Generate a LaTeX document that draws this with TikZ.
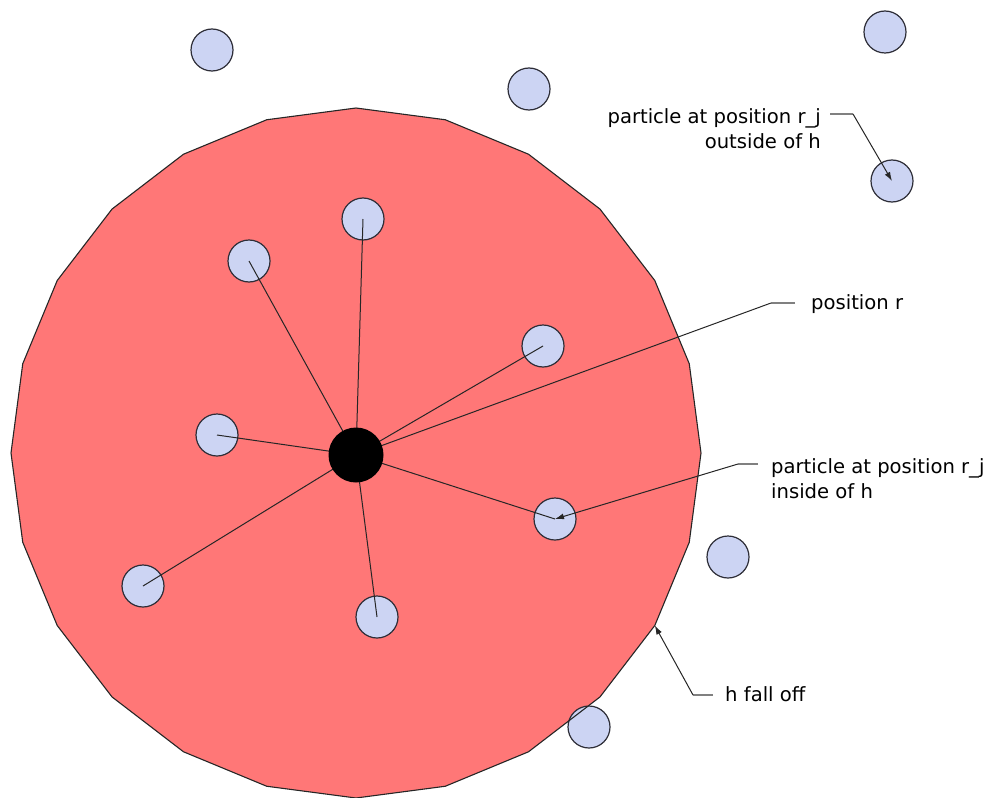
\documentclass[tikz,border=0pt]{standalone}
\usepackage{fontspec}
\setmainfont{DejaVu Sans}
\usetikzlibrary{arrows.meta}
\definecolor{hred}{RGB}{255,119,119}
\definecolor{partblue}{RGB}{204,212,243}
\definecolor{partedge}{RGB}{45,45,55}
\definecolor{leadgray}{RGB}{128,128,128}
\begin{document}
\begin{tikzpicture}[x=1pt,y=-1pt,
  particle/.style={circle,draw=partedge,line width=1.2pt,fill=partblue,minimum size=42pt,inner sep=0pt},
  centerdot/.style={circle,fill=black,minimum size=55pt,inner sep=0pt},
  spoke/.style={draw=black!85,line width=1pt},
  lbl/.style={font=\fontsize{19.6}{25}\selectfont,inner sep=0pt},
  lead/.style={draw=leadgray,line width=1.6pt},
  pointer/.style={draw=black!85,line width=1pt,-{Latex[length=9pt,width=6pt]}}]
\useasboundingbox (0,0) rectangle (984,797);
% smoothing region h
\begin{scope}[shift={(356,453)}]
  \fill[hred] (0:345) \foreach \a in {15,30,...,345}{ -- (\a:345)} -- cycle;
  \coordinate (hv) at (30:345);
\end{scope}
% particles
\node[particle] (p1) at (212,50) {};
\node[particle] (p2) at (529,89) {};
\node[particle] (p3) at (885,32) {};
\node[particle] (p4) at (892,181) {};
\node[particle] (p5) at (363,219) {};
\node[particle] (p6) at (249,261) {};
\node[particle] (p7) at (543,346) {};
\node[particle] (p8) at (217,435) {};
\node[particle] (p9) at (555,519) {};
\node[particle] (p10) at (143,586) {};
\node[particle] (p11) at (377,617) {};
\node[particle] (p12) at (728,557) {};
\node[particle] (p13) at (589,727) {};
% outline of h
\begin{scope}[shift={(356,453)}]
  \draw[black!85,line width=1.1pt] (0:345) \foreach \a in {15,30,...,345}{ -- (\a:345)} -- cycle;
\end{scope}
% center position r
\coordinate (c) at (356,455);
\foreach \p in {p5,p6,p7,p8,p9,p10,p11}{
  \draw[spoke] (c) -- (\p.center);
}
% labels
\node[lbl,anchor=west] (lr) at (811,304) {position r};
\node[lbl,anchor=west,align=left] (lin) at (771,479) {particle at position r\_j\\inside of h};
\node[lbl,anchor=east,align=right] (lout) at (821,129) {particle at position r\_j\\outside of h};
\node[lbl,anchor=west] (lh) at (725,694) {h fall off};
% leaders
\coordinate (kr1) at (795,303);
\coordinate (kr2) at (771,303);
\draw[lead] (kr1) -- (kr2);
\draw[spoke] (kr2) -- (c);
\coordinate (ki1) at (758,464);
\coordinate (ki2) at (738,464);
\draw[lead] (ki1) -- (ki2);
\draw[pointer] (ki2) -- (p9.center);
\coordinate (ko1) at (830,114);
\coordinate (ko2) at (853,114);
\draw[lead] (ko1) -- (ko2);
\draw[pointer] (ko2) -- (p4.center);
\coordinate (kh1) at (713,695);
\coordinate (kh2) at (693,695);
\draw[lead] (kh1) -- (kh2);
\draw[pointer] (kh2) -- (hv);
% black dot on top
\node[centerdot] (cd) at (c) {};
\end{tikzpicture}
\end{document}
